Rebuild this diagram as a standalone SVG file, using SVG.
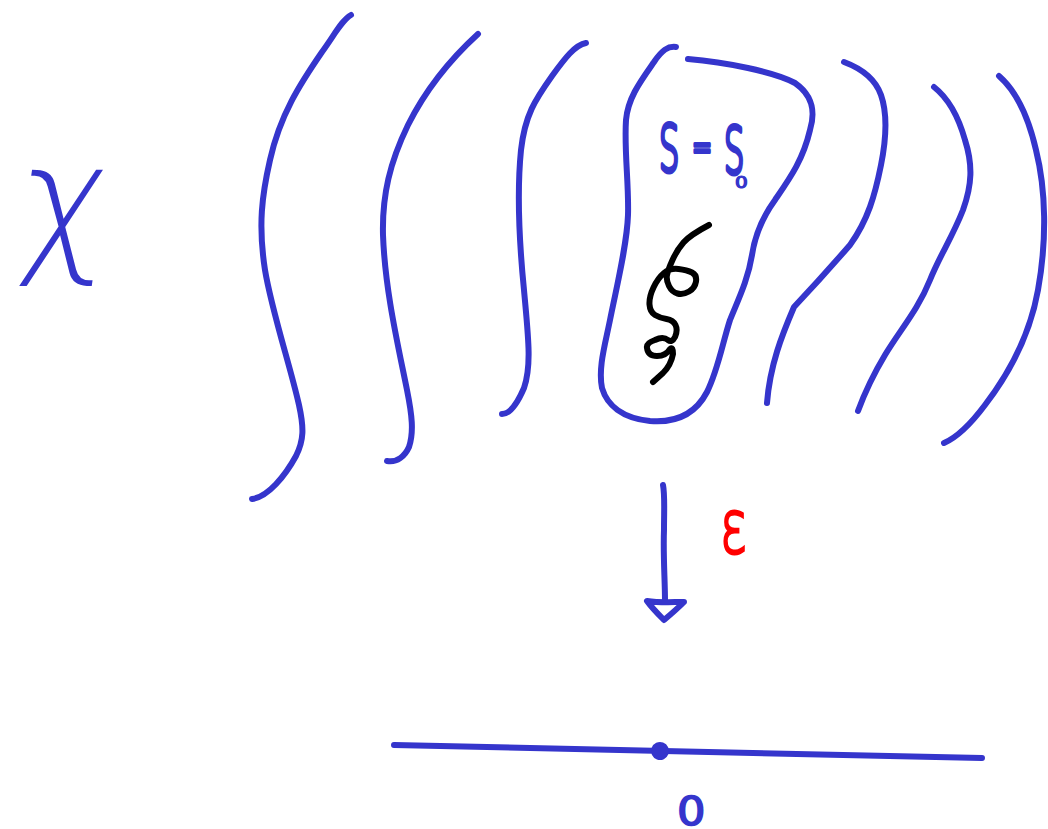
<svg xmlns="http://www.w3.org/2000/svg" width="1048" height="829" viewBox="0 0 1048 829">
<style>
.s{fill:none;stroke:#3535cc;stroke-width:6;stroke-linecap:round;stroke-linejoin:round}
.k{fill:none;stroke:#000;stroke-width:6;stroke-linecap:round;stroke-linejoin:round}
.t{font-family:"DejaVu Sans","Liberation Sans",sans-serif;fill:#3535cc}
.b{stroke:#3535cc;stroke-linejoin:round}
</style>
<rect width="1048" height="829" fill="#fff"/>
<g id="level-curves">
<path class="s" d="M351 15C342 20 335 34 322 52C300 84 280 115 270 160C262 195 258 225 265 270C272 312 290 365 299 405C304 428 304 440 296 456C285 476 268 497 252 499"/>
<path class="s" d="M478 34C455 55 428 85 408 125C390 162 382 195 383 235C385 290 398 345 407 390C412 415 414 432 409 447C405 456 397 463 387 461"/>
<path class="s" d="M586 43C575 45 565 58 552 76C535 100 525 115 521 150C517 190 519 240 524 290C528 335 532 365 524 388C518 402 510 414 502 414"/>
<path class="s" d="M676 47C668 46 662 50 654 62C640 82 628 98 626 120C624 150 629 185 628 215C627 245 617 285 610 320C605 345 598 368 602 388C607 405 622 418 650 421C675 423 695 415 707 392C718 370 722 345 730 320C738 300 748 280 752 255C755 235 762 218 775 200C790 178 803 160 810 130C816 110 812 95 795 83C775 72 725 62 688 59"/>
<path class="s" d="M844 62C860 68 875 78 881 95C888 115 886 140 881 165C875 195 868 220 850 245C830 268 810 290 794 307C782 335 770 365 767 403"/>
<path class="s" d="M934 87C948 98 958 115 965 140C973 165 972 185 963 210C952 238 940 255 930 280C918 310 900 330 885 355C873 375 865 392 858 411"/>
<path class="s" d="M999 76C1015 90 1028 115 1036 150C1046 190 1047 240 1038 290C1030 335 1008 375 985 405C970 425 958 437 944 443"/>
</g>
<g id="inner-curve">
<path class="k" d="M709 225Q690 235 683.5 242.5Q677 250 672.5 260Q668 270 667 275Q666 280 669 286Q672 292 677.5 293.5Q683 295 689 291.5Q695 288 696 281.5Q697 275 692 272.5Q687 270 678.5 269Q670 268 664 273Q658 278 653.5 287.5Q649 297 649.5 304.5Q650 312 655 315Q660 318 666.5 319Q673 320 675.5 325Q678 330 675 337Q672 343 668 340Q663 336 655 340Q646 343 647 348Q648 356 657 356Q666 356 670 349Q673 346 673 354Q671 365 663 373L653 382"/>
</g>
<g id="arrow">
<path class="s" d="M663 485C665 495 664 510 664 530C663 555 665 580 665 601"/>
<path class="s" d="M647 601C660 603 672 602 684 602C678 608 670 615 664 620C658 614 652 608 647 601Z"/>
</g>
<g id="axis">
<path class="s" d="M394 745L982 758"/>
<ellipse cx="660" cy="751" rx="9" ry="9" fill="#3535cc" transform="rotate(20 660 751)"/>
</g>
<g id="labels">
<text class="t" transform="translate(16,254) skewX(-8) scale(.95,1)" font-size="154" font-weight="200">χ</text>
<text class="t b" transform="translate(659,171) scale(.5,1)" font-size="64" font-weight="200" stroke-width="5">S</text>
<text class="t b" transform="translate(692,161) scale(.6,1)" font-size="40" font-weight="200" stroke-width="4">=</text>
<text class="t b" transform="translate(724,173) scale(.5,1)" font-size="64" font-weight="200" stroke-width="5">S</text>
<text class="t b" transform="translate(735,188) scale(1.25,1)" font-size="16" stroke-width="1.2">0</text>
<text transform="translate(720,553) scale(.68,1)" font-size="74" font-weight="200" fill="#f00" stroke="#f00" stroke-width="3" font-family="DejaVu Sans,sans-serif">ε</text>
<text class="t b" transform="translate(677,825) scale(1.15,1)" font-family="Liberation Sans" font-size="39" stroke-width="1.5">0</text>
</g>
</svg>
